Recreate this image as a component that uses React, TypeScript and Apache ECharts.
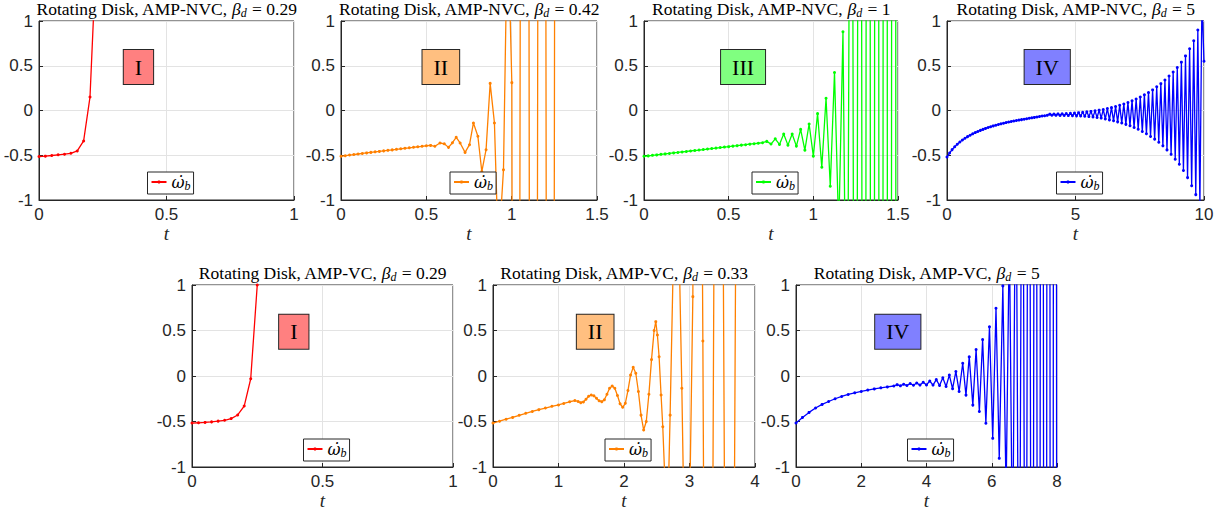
import React, { useEffect, useRef } from "react";
import * as echarts from "echarts";

// ---------- data ----------
// Panel 1: AMP-NVC, beta_d = 0.29
const tA = [0, 0.025, 0.05, 0.075, 0.1, 0.125, 0.15, 0.175, 0.2, 0.225];
const yA = [-0.514, -0.51, -0.503, -0.495, -0.488, -0.478, -0.452, -0.34, 0.15, 1.78];

// Panel 2: AMP-NVC, beta_d = 0.42
const tB = [0, 0.025, 0.05, 0.075, 0.1, 0.125, 0.15, 0.175, 0.2, 0.225, 0.25, 0.275, 0.3, 0.325, 0.35, 0.375, 0.4, 0.425, 0.45, 0.475, 0.5,
  0.525, 0.55, 0.58, 0.605, 0.63, 0.653, 0.675, 0.698, 0.727, 0.753, 0.776, 0.802, 0.825, 0.85, 0.874, 0.899, 0.922, 0.952, 0.976, 1.001,
  1.025, 1.078, 1.127, 1.177, 1.226, 1.275];
const yB = [-0.512, -0.505, -0.498, -0.492, -0.486, -0.48, -0.474, -0.468, -0.462, -0.457, -0.451, -0.445, -0.44, -0.434, -0.428, -0.422, -0.417, -0.411, -0.405, -0.4, -0.394,
  -0.39, -0.4, -0.363, -0.372, -0.412, -0.36, -0.3, -0.363, -0.468, -0.382, -0.139, -0.288, -0.682, -0.438, 0.303, -0.139, -1.6, -0.663, 2.19, 0.311,
  -25, 30, -30, 30, -30, 30];

// Panel 3: AMP-NVC, beta_d = 1
const tC = [0, 0.025, 0.05, 0.075, 0.1, 0.125, 0.15, 0.175, 0.2, 0.225, 0.25, 0.275, 0.3, 0.325, 0.35, 0.375, 0.4, 0.425, 0.45, 0.475,
  0.5, 0.525, 0.55, 0.575, 0.6, 0.625, 0.65, 0.675, 0.7, 0.725, 0.75, 0.775, 0.8, 0.825, 0.85, 0.875, 0.9, 0.925, 0.95, 0.975,
  1.0, 1.025, 1.05, 1.075, 1.1, 1.125, 1.15, 1.175, 1.2, 1.225, 1.25, 1.275, 1.3, 1.325, 1.35, 1.375, 1.4, 1.425, 1.45, 1.475, 1.5];
const yC = [-0.512, -0.507, -0.501, -0.496, -0.49, -0.485, -0.48, -0.474, -0.469, -0.463, -0.458, -0.452, -0.447, -0.442, -0.436, -0.431, -0.425, -0.42, -0.414, -0.409,
  -0.404, -0.398, -0.393, -0.387, -0.382, -0.376, -0.371, -0.366, -0.36, -0.345, -0.375, -0.316, -0.379, -0.263, -0.387, -0.263, -0.398, -0.211, -0.443, -0.151,
  -0.51, -0.035, -0.634, 0.137, -0.847, 0.424, -1.35, 0.88, -4, 8, -12, 16, -20, 25, -30, 35, -40, 45, -50, 55, -60];

// Panel 4: AMP-NVC, beta_d = 5
const tD = [0, 0.1, 0.2, 0.3, 0.4, 0.5, 0.6, 0.7, 0.8, 0.9, 1.0, 1.1, 1.2, 1.3, 1.4, 1.5, 1.6, 1.7, 1.8, 1.9,
  2.0, 2.1, 2.2, 2.3, 2.4, 2.5, 2.6, 2.7, 2.8, 2.9, 3.0, 3.1, 3.2, 3.3, 3.4, 3.5, 3.6, 3.7, 3.8, 3.9,
  4.0, 4.08, 4.16, 4.24, 4.32, 4.4, 4.48, 4.56, 4.64, 4.72, 4.8, 4.88, 4.96, 5.04, 5.12, 5.2, 5.28, 5.36, 5.44, 5.52,
  5.6, 5.68, 5.76, 5.84, 5.92, 6.0, 6.08, 6.16, 6.24, 6.32, 6.4, 6.48, 6.56, 6.64, 6.72, 6.8, 6.88, 6.96, 7.04, 7.12,
  7.2, 7.28, 7.36, 7.44, 7.52, 7.6, 7.68, 7.76, 7.84, 7.92, 8.0, 8.08, 8.16, 8.24, 8.32, 8.4, 8.48, 8.56, 8.64, 8.72,
  8.8, 8.88, 8.96, 9.04, 9.12, 9.2, 9.28, 9.36, 9.44, 9.52, 9.6, 9.68, 9.76, 9.84, 9.92, 10.0];
const yD = [-0.52, -0.475, -0.437, -0.405, -0.377, -0.352, -0.33, -0.31, -0.292, -0.276, -0.261, -0.247, -0.234, -0.222, -0.211, -0.2, -0.19, -0.181, -0.172, -0.164,
  -0.156, -0.149, -0.142, -0.135, -0.129, -0.123, -0.117, -0.112, -0.107, -0.102, -0.097, -0.092, -0.087, -0.082, -0.077, -0.072, -0.067, -0.062, -0.058, -0.054,
  -0.041, -0.053, -0.04, -0.054, -0.038, -0.055, -0.036, -0.056, -0.034, -0.057, -0.032, -0.058, -0.028, -0.06, -0.024, -0.062, -0.02, -0.065, -0.015, -0.068,
  -0.01, -0.072, -0.004, -0.078, 0.004, -0.085, 0.012, -0.095, 0.022, -0.105, 0.032, -0.115, 0.044, -0.127, 0.058, -0.14, 0.072, -0.155, 0.09, -0.17,
  0.108, -0.19, 0.128, -0.21, 0.15, -0.235, 0.175, -0.26, 0.2, -0.29, 0.23, -0.32, 0.265, -0.355, 0.3, -0.395, 0.34, -0.44, 0.385, -0.49,
  0.43, -0.545, 0.48, -0.6, 0.54, -0.67, 0.61, -0.75, 0.69, -0.84, 0.78, -0.94, 0.9, -1.08, 1.25, 0.55];

// Panel 5: AMP-VC, beta_d = 0.29
const tE = [0, 0.025, 0.05, 0.075, 0.1, 0.125, 0.15, 0.175, 0.2, 0.225, 0.25, 0.275];
const yE = [-0.517, -0.514, -0.51, -0.504, -0.496, -0.487, -0.468, -0.428, -0.33, -0.03, 1.0, 4.0];

// Panel 6: AMP-VC, beta_d = 0.33
const tF = [0, 0.1, 0.2, 0.3, 0.4, 0.5, 0.6, 0.7, 0.8, 0.9, 1.0, 1.08, 1.17, 1.25, 1.3, 1.34, 1.38, 1.42, 1.46, 1.5,
  1.54, 1.58, 1.62, 1.66, 1.7, 1.74, 1.78, 1.82, 1.86, 1.9, 1.94, 1.98, 2.02, 2.06, 2.1, 2.14, 2.18, 2.22, 2.26, 2.3,
  2.34, 2.38, 2.42, 2.46, 2.485, 2.51, 2.536, 2.566, 2.592, 2.66, 2.704, 2.8, 2.883, 2.96, 3.051, 3.12, 3.204, 3.29, 3.44, 3.61, 3.78];
const yF = [-0.517, -0.497, -0.475, -0.455, -0.432, -0.41, -0.39, -0.37, -0.352, -0.333, -0.318, -0.302, -0.283, -0.27, -0.28, -0.293, -0.285, -0.255, -0.222, -0.209,
  -0.218, -0.245, -0.272, -0.282, -0.262, -0.2, -0.135, -0.11, -0.135, -0.215, -0.305, -0.344, -0.3, -0.16, 0.01, 0.095, 0.03, -0.17, -0.43, -0.593,
  -0.5, -0.2, 0.18, 0.5, 0.597, 0.45, 0.212, -0.209, -0.557, -1.8, -0.43, 2.93, -0.135, -3.5, 0.872, 10.7, 0.385, -12, 12, -12, 12];

// Panel 7: AMP-VC, beta_d = 5
const tG = [0, 0.2, 0.4, 0.6, 0.8, 1.0, 1.2, 1.4, 1.6, 1.8, 2.0, 2.2, 2.4, 2.6, 2.8, 3.0,
  3.1, 3.2, 3.3, 3.4, 3.5, 3.6, 3.7, 3.8, 3.9, 4.0, 4.1, 4.2, 4.3, 4.4, 4.5, 4.6, 4.7, 4.8, 4.9, 5.0,
  5.11, 5.21, 5.31, 5.42, 5.52, 5.62, 5.72, 5.82, 5.93, 6.03, 6.13, 6.23, 6.34, 6.44, 6.54, 6.64, 6.74, 6.84, 6.94, 7.04,
  7.14, 7.24, 7.34, 7.44, 7.54, 7.64, 7.74, 7.84, 7.94, 8.04];
const yG = [-0.517, -0.455, -0.4, -0.352, -0.312, -0.28, -0.25, -0.225, -0.203, -0.185, -0.17, -0.155, -0.142, -0.13, -0.12, -0.11,
  -0.095, -0.108, -0.09, -0.105, -0.083, -0.102, -0.077, -0.1, -0.068, -0.098, -0.055, -0.1, -0.04, -0.105, -0.02, -0.115, 0.01, -0.14, 0.05, -0.17,
  0.14, -0.21, 0.21, -0.32, 0.29, -0.39, 0.4, -0.52, 0.54, -0.685, 0.745, -0.905, 0.99, -1.3, 1.6, -2.2, 3, -4, 5, -6,
  8, -10, 12, -15, 18, -22, 26, -30, 35, -40];

const seriesT = [tA, tB, tC, tD, tE, tF, tG];
const seriesY = [yA, yB, yC, yD, yE, yF, yG];
const methods = ["AMP-NVC", "AMP-NVC", "AMP-NVC", "AMP-NVC", "AMP-VC", "AMP-VC", "AMP-VC"];
const betas = ["0.29", "0.42", "1", "5", "0.29", "0.33", "5"];
const regimes = ["I", "II", "III", "IV", "I", "II", "IV"];
const xMaxes = [1, 1.5, 1.5, 10, 1, 4, 8];
const xIntervals = [0.5, 0.5, 0.5, 5, 0.5, 1, 2];
const yTicks = { min: -1, max: 1, interval: 0.5 };

// ---------- styling / layout ----------
const lineColors = ["#ff0000", "#ff8000", "#00ff00", "#0000ff", "#ff0000", "#ff8000", "#0000ff"];
const boxFills = ["#ff8080", "#ffbf80", "#80ff80", "#8080ff", "#ff8080", "#ffbf80", "#8080ff"];
const grids = [
  { left: 39, top: 21, width: 255, height: 179 },
  { left: 341, top: 21, width: 256, height: 179 },
  { left: 644, top: 21, width: 254, height: 179 },
  { left: 947, top: 21, width: 257, height: 179 },
  { left: 192, top: 285, width: 261, height: 182 },
  { left: 493, top: 285, width: 262, height: 182 },
  { left: 796, top: 285, width: 261, height: 182 },
];

const SERIF = "Liberation Serif";
const SANS = "Liberation Sans";
const INK = "#262626";
const OMEGA_DOT = "\u03C9\u0307";

export default function App() {
  const ref = useRef<HTMLDivElement>(null);
  useEffect(() => {
    if (!ref.current) return;
    const chart = echarts.init(ref.current, undefined, { renderer: "svg" });
    const names = seriesT.map((_, i) => `wb${i + 1}`);

    const option: any = {
      animation: false,
      backgroundColor: "#ffffff",
      grid: grids.map((g) => ({
        ...g,
        show: true,
        borderColor: INK,
        borderWidth: 1,
        backgroundColor: "#ffffff",
        containLabel: false,
      })),
      xAxis: grids.map((_, i) => ({
        type: "value",
        gridIndex: i,
        min: 0,
        max: xMaxes[i],
        interval: xIntervals[i],
        name: "t",
        nameLocation: "middle",
        nameGap: 21,
        nameTextStyle: { fontFamily: SERIF, fontStyle: "italic", fontSize: 19, color: INK },
        axisLine: { show: true, onZero: false, lineStyle: { color: INK, width: 1 } },
        axisTick: { show: true, inside: true, length: 4, lineStyle: { color: INK } },
        axisLabel: { fontFamily: SANS, fontSize: 17, color: INK, margin: 6, showMinLabel: true, showMaxLabel: true },
        splitLine: { show: true, lineStyle: { color: "#e3e3e3", width: 1 } },
      })),
      yAxis: grids.map((_, i) => ({
        type: "value",
        gridIndex: i,
        min: yTicks.min,
        max: yTicks.max,
        interval: yTicks.interval,
        axisLine: { show: true, onZero: false, lineStyle: { color: INK, width: 1 } },
        axisTick: { show: true, inside: true, length: 4, lineStyle: { color: INK } },
        axisLabel: { fontFamily: SANS, fontSize: 17, color: INK, margin: 6 },
        splitLine: { show: true, lineStyle: { color: "#e3e3e3", width: 1 } },
      })),
      legend: grids.map((g, i) => ({
        data: [names[i]],
        left: g.left + g.width / 2 - 19,
        top: g.top + g.height - 28,
        orient: "horizontal",
        itemWidth: 15,
        itemHeight: 4,
        padding: [2, 3, 2, 3],
        borderColor: INK,
        borderWidth: 1,
        backgroundColor: "#ffffff",
        selectedMode: false,
        formatter: () => `{w|${OMEGA_DOT}}{s|b}`,
        textStyle: {
          color: "#000",
          rich: {
            w: { fontFamily: "DejaVu Serif", fontStyle: "italic", fontSize: 16, color: "#000" },
            s: { fontFamily: SERIF, fontStyle: "italic", fontSize: 12, color: "#000", padding: [8, 0, 0, 0] },
          },
        },
      })),
      series: seriesT.map((ts, i) => ({
        name: names[i],
        type: "line",
        xAxisIndex: i,
        yAxisIndex: i,
        data: ts.map((t, k) => [t, seriesY[i][k]]),
        clip: true,
        showSymbol: true,
        symbol: "circle",
        symbolSize: 3,
        lineStyle: { color: lineColors[i], width: 1.3 },
        itemStyle: { color: lineColors[i] },
        emphasis: { disabled: true },
      })),
      graphic: [
        ...grids.map((g, i) => ({
          type: "text",
          x: g.left + g.width / 2,
          y: g.top - 12,
          z: 100,
          style: {
            text: `{n|Rotating Disk, ${methods[i]}, }{i|β}{s|d}{n| = ${betas[i]}}`,
            fontFamily: SERIF,
            fontSize: 17.5,
            fill: "#000",
            align: "center",
            verticalAlign: "middle",
            rich: {
              n: { fontFamily: SERIF, fontSize: 17.5, fill: "#000" },
              i: { fontFamily: SERIF, fontStyle: "italic", fontSize: 17.5, fill: "#000" },
              s: { fontFamily: SERIF, fontStyle: "italic", fontSize: 12, fill: "#000", padding: [7, 1, 0, 0] },
            },
          },
        })),
        ...grids.map((g, i) => ({
          type: "text",
          x: g.left + g.width * 0.39,
          y: g.top + g.height * 0.257,
          z: 100,
          style: {
            text: regimes[i],
            fontFamily: SERIF,
            fontSize: 22,
            fill: "#000",
            backgroundColor: boxFills[i],
            borderColor: INK,
            borderWidth: 1,
            padding: [6, 11, 6, 11],
            align: "center",
            verticalAlign: "middle",
          },
        })),
      ],
    };
    chart.setOption(option);
    return () => chart.dispose();
  }, []);

  return (
    <div
      ref={ref}
      style={{ position: "absolute", left: 0, top: 0, width: 1218, height: 511, background: "#fff" }}
    />
  );
}
